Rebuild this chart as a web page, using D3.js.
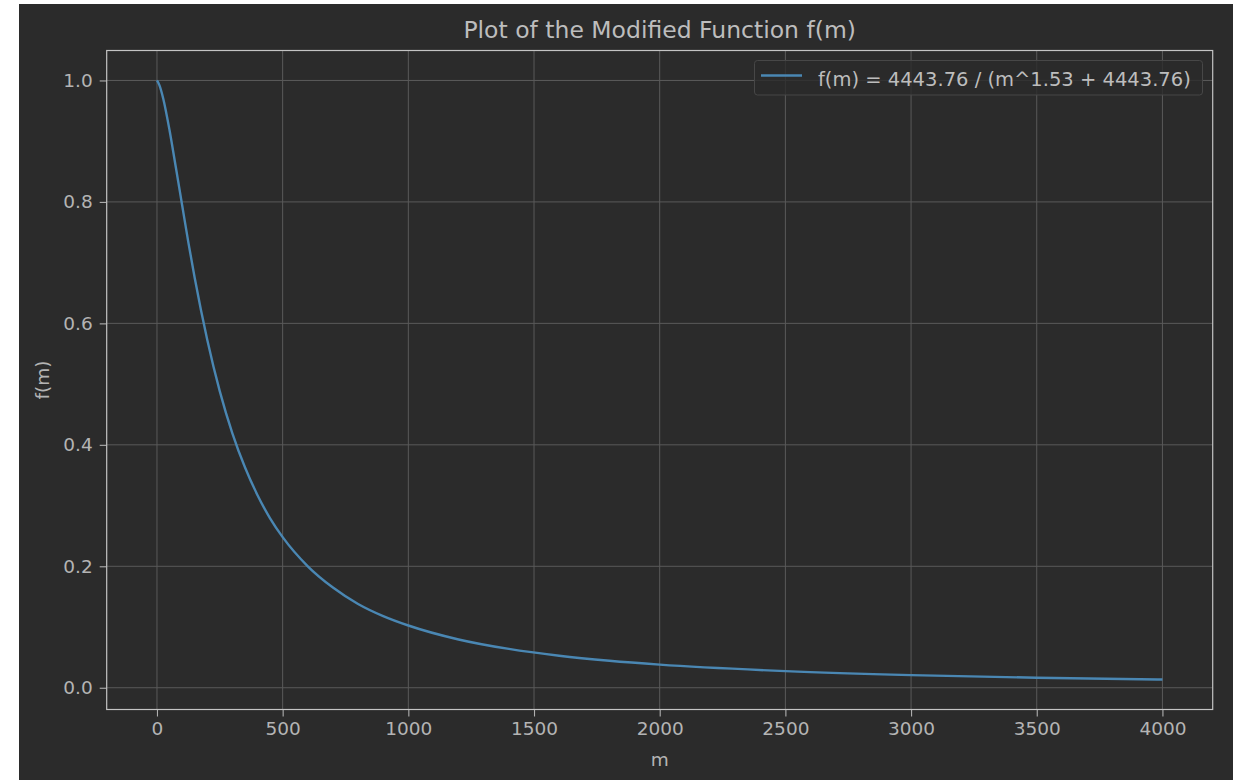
<!DOCTYPE html>
<html>
<head>
<meta charset="utf-8">
<script src="https://cdn.jsdelivr.net/npm/d3@7"></script>
<style>
  html, body { margin: 0; padding: 0; background: #ffffff; }
  svg { display: block; }
  text { font-family: "DejaVu Sans", sans-serif; }
</style>
</head>
<body>
<svg id="chart" width="1233" height="780"></svg>
<script>
// Sampled curve: m values and f(m)
const mValues = [0, 10, 25, 50, 75, 100, 125, 150, 200, 250, 300, 350, 400, 450, 500,
                 600, 700, 800, 900, 1000, 1200, 1400, 1600, 1800, 2000, 2500, 3000, 3500, 4000];
const fValues = [1.0, 0.992, 0.970, 0.918, 0.857, 0.795, 0.733, 0.675, 0.573, 0.488, 0.419,
                 0.363, 0.317, 0.279, 0.248, 0.200, 0.165, 0.138, 0.118, 0.1025, 0.0795,
                 0.0639, 0.0527, 0.0444, 0.0380, 0.0274, 0.0208, 0.0165, 0.0135];
const xTicks = [0, 500, 1000, 1500, 2000, 2500, 3000, 3500, 4000];
const yTicks = [0.0, 0.2, 0.4, 0.6, 0.8, 1.0];
const titleText = "Plot of the Modified Function f(m)";
const legendText = "f(m) = 4443.76 / (m^1.53 + 4443.76)";
const xLabel = "m";
const yLabel = "f(m)";

const svg = d3.select("#chart");
const W = 1233, H = 780;
const bg = "#2b2b2b";
const lineColor = "#4a87b3";

// dark figure panel
svg.append("rect").attr("x", 19).attr("y", 4).attr("width", W - 19).attr("height", H - 4).attr("fill", bg);

const plot = { left: 106.7, top: 50.5, right: 1212.7, bottom: 709.5 };

const x = d3.scaleLinear().domain([-200, 4200]).range([plot.left, plot.right]);
const yMin = 0.0135 - 0.05 * (1 - 0.0135), yMax = 1 + 0.05 * (1 - 0.0135);
const y = d3.scaleLinear().domain([yMin, yMax]).range([plot.bottom, plot.top]);

// grid
const grid = svg.append("g").attr("stroke", "#5a5a5a").attr("stroke-width", 1);
xTicks.forEach(t => grid.append("line")
  .attr("x1", x(t)).attr("x2", x(t)).attr("y1", plot.top).attr("y2", plot.bottom));
yTicks.forEach(t => grid.append("line")
  .attr("x1", plot.left).attr("x2", plot.right).attr("y1", y(t)).attr("y2", y(t)));

// axes
const tickColor = "#b0b0b0";
const xAxis = svg.append("g").attr("transform", `translate(0,${plot.bottom})`)
  .call(d3.axisBottom(x).tickValues(xTicks).tickFormat(d3.format("d")).tickSize(7).tickPadding(5));
const yAxis = svg.append("g").attr("transform", `translate(${plot.left},0)`)
  .call(d3.axisLeft(y).tickValues(yTicks).tickFormat(d3.format(".1f")).tickSize(7).tickPadding(7));
[xAxis, yAxis].forEach(a => {
  a.select(".domain").remove();
  a.selectAll(".tick line").attr("stroke", tickColor).attr("stroke-width", 1.1);
  a.selectAll(".tick text").attr("fill", "#b4b4b4").attr("font-size", 18.5);
});

// curve
const pts = mValues.map((m, i) => [m, fValues[i]]);
svg.append("path").datum(pts)
  .attr("fill", "none").attr("stroke", lineColor).attr("stroke-width", 2.4)
  .attr("d", d3.line().x(d => x(d[0])).y(d => y(d[1])).curve(d3.curveMonotoneX));

// frame
svg.append("rect").attr("x", plot.left).attr("y", plot.top)
  .attr("width", plot.right - plot.left).attr("height", plot.bottom - plot.top)
  .attr("fill", "none").attr("stroke", "#c4c4c4").attr("stroke-width", 1.2);

// title & labels
svg.append("text").attr("x", (plot.left + plot.right) / 2).attr("y", 37.5)
  .attr("text-anchor", "middle").attr("fill", "#bdbdbd").attr("font-size", 23.5).text(titleText);
svg.append("text").attr("x", (plot.left + plot.right) / 2).attr("y", 766)
  .attr("text-anchor", "middle").attr("fill", "#b4b4b4").attr("font-size", 18.5).text(xLabel);
svg.append("text").attr("transform", `translate(49,${(plot.top + plot.bottom) / 2}) rotate(-90)`)
  .attr("text-anchor", "middle").attr("fill", "#b4b4b4").attr("font-size", 18.5).text(yLabel);

// legend
const lg = svg.append("g");
lg.append("rect").attr("x", 754.5).attr("y", 60.5).attr("width", 448).attr("height", 34.5)
  .attr("rx", 3).attr("fill", bg).attr("fill-opacity", 0.8)
  .attr("stroke", "#474747").attr("stroke-width", 1);
lg.append("line").attr("x1", 761).attr("x2", 802).attr("y1", 75.5).attr("y2", 75.5)
  .attr("stroke", lineColor).attr("stroke-width", 2.4);
lg.append("text").attr("x", 818).attr("y", 86).attr("fill", "#bdbdbd").attr("font-size", 19.5)
  .text(legendText);
</script>
</body>
</html>
